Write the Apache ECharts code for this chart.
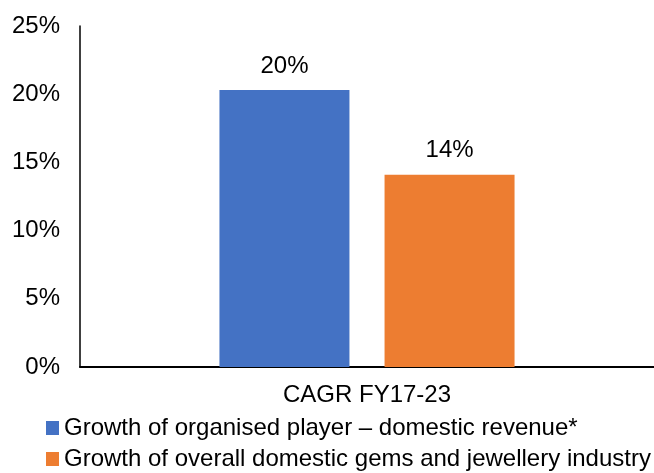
<!DOCTYPE html>
<html>
<head>
<meta charset="utf-8">
<script src="https://cdn.jsdelivr.net/npm/echarts@6/dist/echarts.min.js"></script>
<style>
  html, body { margin: 0; padding: 0; background: #fff; }
  #chart { width: 654px; height: 473px; }
</style>
</head>
<body>
<div id="chart"></div>
<script>
// data
const categories = ['CAGR FY17-23'];
const seriesNames = [
  'Growth of organised player \u2013 domestic revenue*',
  'Growth of overall domestic gems and jewellery industry'
];
const organisedGrowth = [20.3];
const industryGrowth = [14.1];
const colors = ['#4472C4', '#ED7D31'];

const font = 'Liberation Sans, Arial, sans-serif';
const fs = 24;

let chart = echarts.init(document.getElementById('chart'));

// one legend per row so they stack like the original
const legendRow = (name, top) => ({
  left: 41,
  top: top,
  itemWidth: 13,
  itemHeight: 14,
  icon: 'rect',
  textStyle: { fontFamily: font, fontSize: fs, color: '#000' },
  data: [name]
});

let option = {
  animation: false,
  textStyle: { fontFamily: font },
  // the plot runs a little past the right edge of the canvas
  grid: { left: 80, width: 582, top: 26, bottom: 106, containLabel: false },
  legend: [legendRow(seriesNames[0], 411), legendRow(seriesNames[1], 442)],
  xAxis: {
    type: 'category',
    data: categories,
    axisLine: { lineStyle: { color: '#000', width: 2 } },
    axisTick: { show: false },
    axisLabel: { fontFamily: font, fontSize: fs, color: '#000', margin: 16 }
  },
  yAxis: {
    type: 'value',
    min: 0,
    max: 25,
    interval: 5,
    axisLine: { show: true, lineStyle: { color: '#000', width: 1.5 } },
    axisTick: { show: false },
    splitLine: { show: false },
    axisLabel: { fontFamily: font, fontSize: fs, color: '#000', margin: 20, formatter: v => v + '%' }
  },
  series: [{
    name: seriesNames[0],
    type: 'bar',
    data: organisedGrowth,
    barWidth: 130,
    barGap: '27%',
    itemStyle: { color: colors[0] },
    label: { show: true, position: 'top', distance: 12, fontFamily: font, fontSize: fs, color: '#000',
             formatter: p => Math.round(p.value) + '%' }
  }, {
    name: seriesNames[1],
    type: 'bar',
    data: industryGrowth,
    barWidth: 130,
    barGap: '27%',
    itemStyle: { color: colors[1] },
    label: { show: true, position: 'top', distance: 12, fontFamily: font, fontSize: fs, color: '#000',
             formatter: p => Math.round(p.value) + '%' }
  }]
};

chart.setOption(option);
window.addEventListener('resize', () => { chart.resize(); });
</script>
</body>
</html>
